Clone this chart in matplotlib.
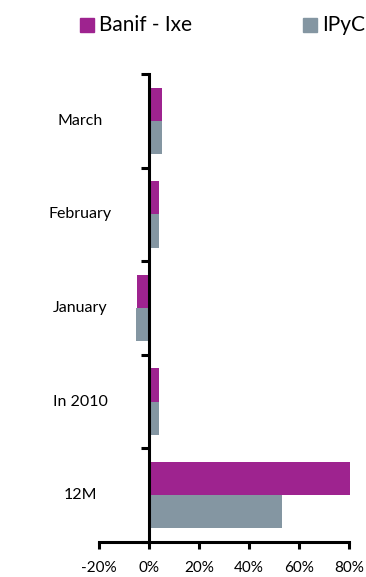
import matplotlib.pyplot as plt
import numpy as np
from matplotlib.patches import Rectangle
import matplotlib.transforms as mtransforms

# categories listed bottom to top
categories = ["12M", "In 2010", "January", "February", "March"]
banif_ixe = [80.5, 4, -4.7, 4, 5]
ipyc = [53, 4, -5.3, 4, 5]
x_ticks = [-20, 0, 20, 40, 60, 80]
series_names = ["Banif - Ixe", "IPyC"]

magenta = "#9E238F"
grey = "#8496A2"

plt.rcParams["font.family"] = ["Lato", "DejaVu Sans"]

W, H = 366, 577
fig = plt.figure(figsize=(W / 100, H / 100), dpi=100)
ax = fig.add_axes([99 / W, 35 / H, 250 / W, 468 / H])

y = np.arange(len(categories))
h = 0.355
ax.barh(y + h / 2, banif_ixe, height=h, color=magenta, clip_on=False)
ax.barh(y - h / 2, ipyc, height=h, color=grey)

ax.set_xlim(-20, 80)
ax.set_ylim(-0.5, len(categories) - 0.5)

ax.spines["top"].set_visible(False)
ax.spines["right"].set_visible(False)
ax.spines["left"].set_position(("data", 0))
for s in ("left", "bottom"):
    ax.spines[s].set_linewidth(2.2)

ax.set_xticks(x_ticks)
ax.set_xticklabels([f"{v}%" for v in x_ticks], fontsize=11)
ax.tick_params(axis="x", direction="out", length=5, width=2.2, pad=9)

ax.set_yticks(np.arange(-0.5, len(categories), 1))
ax.set_yticklabels([])
ax.tick_params(axis="y", direction="out", length=6, width=2.2)

trans = mtransforms.blended_transform_factory(fig.transFigure, ax.transData)
for yi, name in zip(y, categories):
    ax.text(80 / W, yi, name, transform=trans, ha="center", va="center", fontsize=11.5)

# legend drawn by hand: square + label
for x0, col, name in zip([80, 303], [magenta, grey], series_names):
    fig.patches.append(Rectangle((x0 / W, 1 - 32 / H), 14 / W, 14 / H,
                                 transform=fig.transFigure, color=col))
    fig.text((x0 + 19) / W, 1 - 25 / H, name, ha="left", va="center", fontsize=15)

fig.savefig("out.png", dpi=100)
